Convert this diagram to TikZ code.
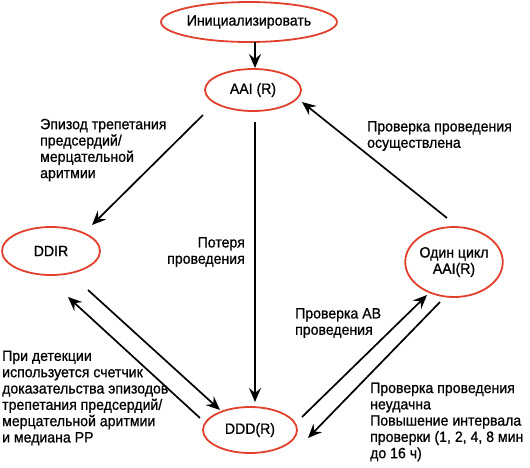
\documentclass[tikz,border=0pt]{standalone}
\usepackage{fontspec}
\setmainfont[FakeStretch=0.94, FakeBold=0.8]{Liberation Sans}
\usetikzlibrary{arrows.meta,shapes.geometric,calc}
\definecolor{ovalred}{RGB}{224,64,44}

\begin{document}
\begin{tikzpicture}[x=1pt, y=-1pt,
	state/.style={ellipse, draw=ovalred, line width=1.8pt, inner sep=0pt, align=center, font=\fontsize{15}{16.3}\selectfont},
	arr/.style={line width=1.7pt, -{Stealth[length=14pt, width=12pt, inset=5pt]}},
	lbl/.style={inner sep=0pt, font=\fontsize{15}{16.3}\selectfont}]
	\useasboundingbox (0,0) rectangle (530,467);
	% States
	\node[state, minimum width=140, minimum height=40] (init) at (249,22) {Инициализировать};
	\node[state, minimum width=96, minimum height=42] (aai) at (253,90) {AAI (R)};
	\node[state, minimum width=98, minimum height=48] (ddir) at (51,251) {DDIR};
	\node[state, minimum width=92, minimum height=70] (one) at (454,262) {Один цикл\\AAI(R)};
	\node[state, minimum width=94, minimum height=46] (ddd) at (250,430) {DDD(R)};
	% Transitions
	\draw[arr] ($(init)+(6,20)$) -- ($(aai)+(2,-22)$);
	\draw[arr] ($(aai)+(-50,25)$) -- ($(ddir)+(41,-26)$);
	\draw[arr] ($(aai)+(2,32)$) -- ($(ddd)+(5,-28)$);
	\draw[arr] ($(one)+(-7,-44)$) -- ($(aai)+(49,12)$);
	\draw[arr] ($(ddir)+(37,39)$) -- ($(ddd)+(-30,-20)$);
	\draw[arr] ($(ddd)+(-50,-12)$) -- ($(ddir)+(17,46)$);
	\draw[arr] ($(ddd)+(52,-13)$) -- ($(one)+(-27,33)$);
	\draw[arr] ($(one)+(-14,40)$) -- ($(ddd)+(58,8)$);
	% Labels
	\node[lbl, anchor=west, align=left] (lbl-af) at (40,150) {Эпизод трепетания\\предсердий/\\мерцательной\\аритмии};
	\node[lbl, anchor=west, align=left] (lbl-ok) at (367,136) {Проверка проведения\\осуществлена};
	\node[lbl, anchor=east, align=right] (lbl-loss) at (245,252) {Потеря\\проведения};
	\node[lbl, anchor=west, align=left] (lbl-av) at (295,323) {Проверка АВ\\проведения};
	\node[lbl, anchor=west, align=left] (lbl-det) at (2,398) {При детекции\\используется счетчик\\доказательства эпизодов\\трепетания предсердий/\\мерцательной аритмии\\и медиана РР};
	\node[lbl, anchor=west, align=left] (lbl-fail) at (370,422) {Проверка проведения\\неудачна\\Повышение интервала\\проверки (1, 2, 4, 8 мин\\до 16 ч)};
\end{tikzpicture}
\end{document}
